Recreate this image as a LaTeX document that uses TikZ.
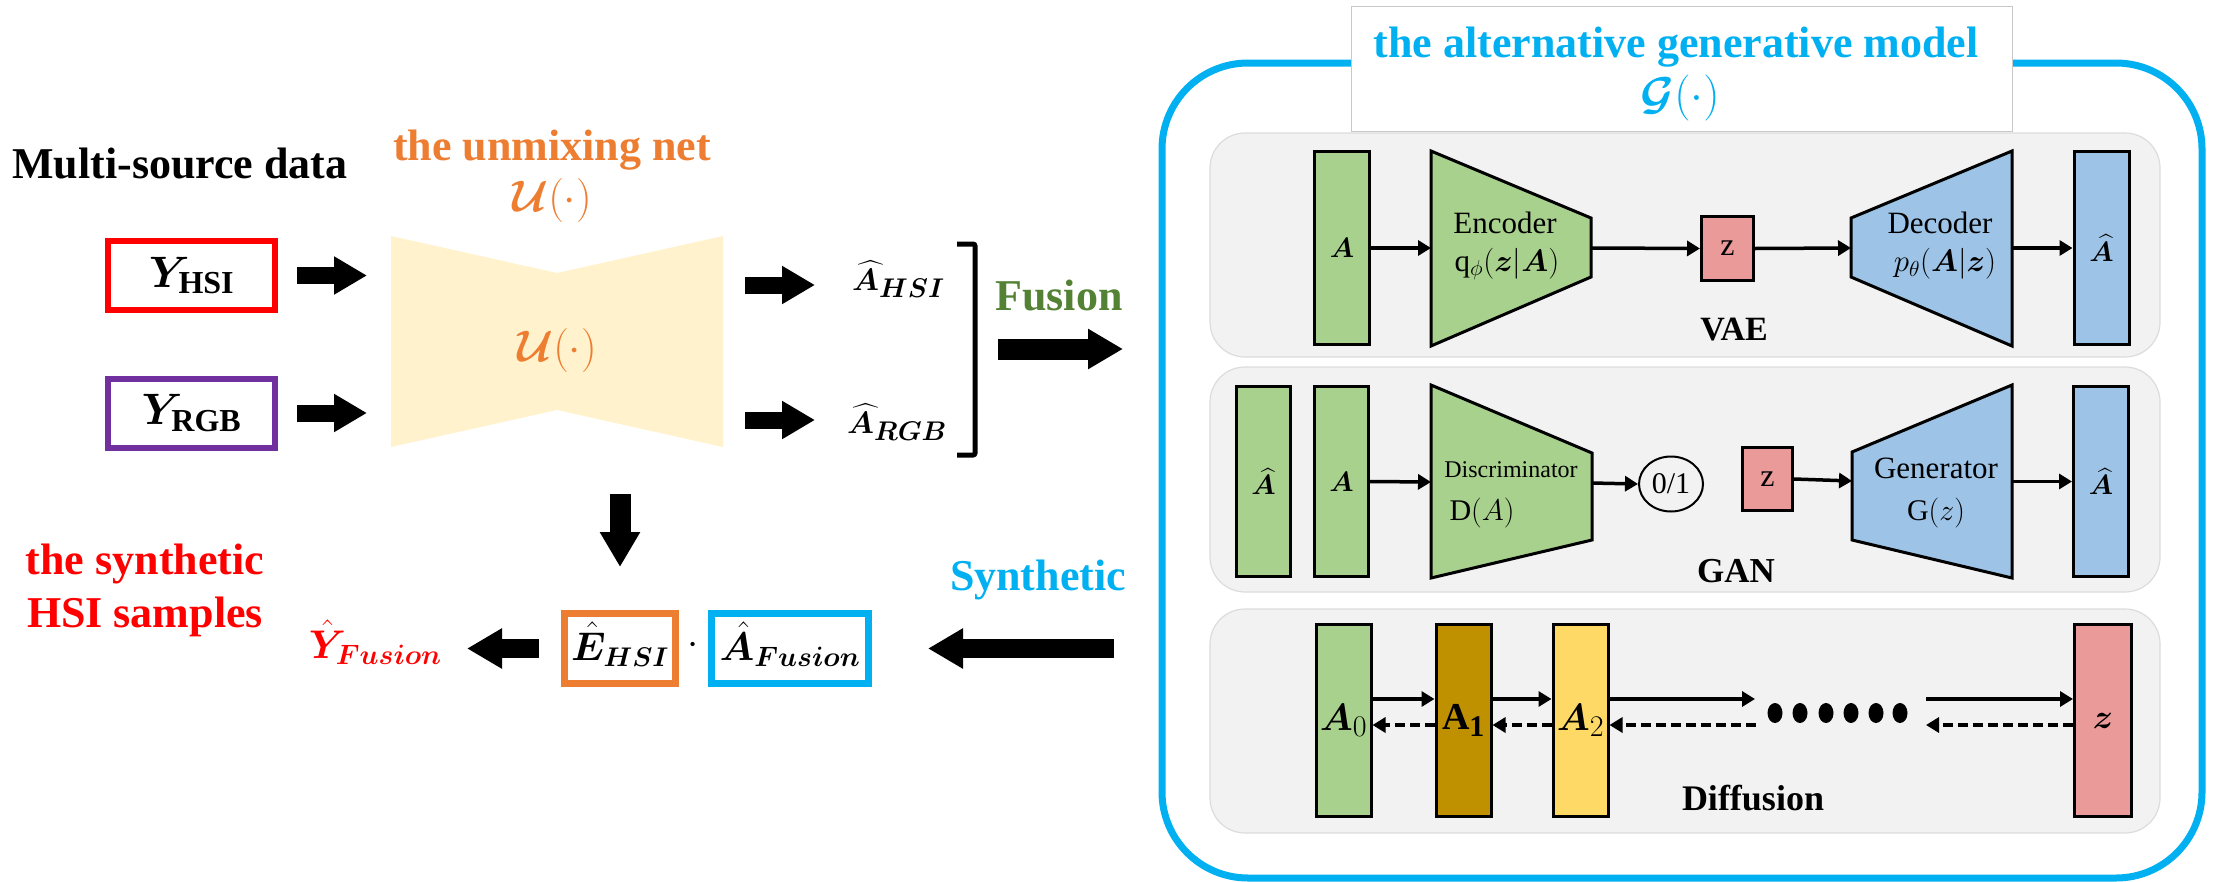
\RequirePackage{fix-cm}
\documentclass[tikz,border=0pt]{standalone}
\usepackage{amsmath}
\usepackage{bm}
\usepackage{fontspec}
\setmainfont{Liberation Serif}
\usetikzlibrary{arrows.meta,shapes.geometric}

\definecolor{redC}{HTML}{FF0000}
\definecolor{purpleC}{HTML}{7030A0}
\definecolor{orangeC}{HTML}{ED7D31}
\definecolor{cyanB}{HTML}{00B0F0}
\definecolor{greenT}{HTML}{548235}
\definecolor{hgFill}{HTML}{FFF2CC}
\definecolor{greenF}{HTML}{A9D18E}
\definecolor{blueF}{HTML}{9DC3E6}
\definecolor{redF}{HTML}{EA9A98}
\definecolor{brownF}{HTML}{BF9000}
\definecolor{yellowF}{HTML}{FFD966}
\definecolor{panelG}{HTML}{F2F2F2}
\definecolor{panelB}{HTML}{DCDCDC}
\definecolor{grayL}{HTML}{C8C8C8}

\newcommand{\fsz}[1]{\fontsize{#1}{#1}\selectfont}
% large subscripts set at an explicit size
\newcommand{\sbx}[2]{\mbox{\fontsize{#1}{#1}\selectfont$#2$}}
\newcommand{\sbt}[2]{\mbox{\fontsize{#1}{#1}\selectfont\bfseries #2}}

\tikzset{
  fat/.style={line width=17pt, -{Triangle[length=33pt,width=36pt]}},
  fatB/.style={line width=21pt, -{Triangle[length=35pt,width=38pt]}},
  ybox/.style={draw, line width=6pt, minimum width=167pt, minimum height=69pt,
    fill=white, text height=33pt, text depth=10pt, inner sep=0pt, font={\fsz{44}}},
  mbox/.style={draw, line width=7pt, minimum width=111pt, minimum height=70pt,
    fill=white, text height=33pt, text depth=10pt, inner sep=0pt, font={\fsz{40}}},
  lbl/.style={inner sep=0pt, anchor=base},
  pnl/.style={fill=panelG, draw=panelB, line width=1.2pt, rounded corners=35pt,
    minimum width=950pt},
  bar/.style={draw=black, line width=3pt, minimum width=55pt, inner sep=0pt},
  trap/.style={draw=black, line width=3pt, line join=miter},
  parrow/.style={line width=3.5pt, -{Triangle[length=13pt,width=15pt]}},
  darrow/.style={parrow, dash pattern=on 10pt off 5pt},
}

\begin{document}
\begin{tikzpicture}[x=1pt,y=-1pt]
\useasboundingbox (0,0) rectangle (2213,881);

% ---------------- left: unmixing stage ----------------
\node[lbl, font={\fsz{44}\bfseries}] (msd) at (180,178) {Multi-source data};
\node[lbl, font={\fsz{44}\bfseries}, text=orangeC] (unt) at (552,160) {the unmixing net};
\node[inner sep=0pt, font={\fsz{44}}, text=orangeC] (ulab) at (552,200) {$\bm{\mathcal{U}}(\cdot)$};

\node[ybox, draw=redC] (yhsi) at (191.5,275.5) {$\bm{Y}_{\sbt{32}{HSI}}$};
\node[ybox, draw=purpleC] (yrgb) at (191.5,413) {$\bm{Y}_{\sbt{32}{RGB}}$};

% hourglass body of the unmixing net
\fill[hgFill] (391,236) -- (557,273) -- (723,236) -- (723,447) -- (557,410) -- (391,447) -- cycle;
\coordinate (hgL) at (391,342);
\coordinate (hgR) at (723,342);
\node[inner sep=0pt, font={\fsz{44}}, text=orangeC] (uin) at (557,350) {$\bm{\mathcal{U}}(\cdot)$};

\draw[fat, shorten <=19pt, shorten >=24pt] (yhsi.east) -- (yhsi.east -| hgL);
\draw[fat, shorten <=19pt, shorten >=24pt] (yrgb.east) -- (yrgb.east -| hgL);

% abundance outputs
\node[inner sep=0pt, anchor=base west, font={\fsz{31}}] (ahsi) at (852,290) {$\widehat{\bm{A}}_{\sbx{27}{\bm{HSI}}}$};
\node[inner sep=0pt, anchor=base west, font={\fsz{31}}] (argb) at (847,433) {$\widehat{\bm{A}}_{\sbx{27}{\bm{RGB}}}$};
\coordinate (o1) at (723,285);
\coordinate (o2) at (723,420);
\draw[fat, shorten <=22pt, shorten >=37pt] (o1) -- (o1 -| ahsi.west);
\draw[fat, shorten <=22pt, shorten >=32pt] (o2) -- (o2 -| argb.west);

% bracket and fusion
\draw[line width=5pt, rounded corners=2pt] (957,244) -- (975,244) -- (975,455) -- (957,455);
\coordinate (brk) at (977,349);
\node[lbl, font={\fsz{44}\bfseries}, text=greenT] (fus) at (1059,310) {Fusion};

% ---------------- bottom: synthesis ----------------
\node[lbl, align=center, font={\fontsize{44}{53}\selectfont\bfseries}, text=redC] (syn) at (145,627) {the synthetic\\HSI samples};
\node[inner sep=0pt, anchor=base east, font={\fsz{40}}, text=redC] (yfu) at (442,658) {$\hat{\bm{Y}}_{\sbx{28}{\bm{Fusion}}}$};
\node[mbox, draw=orangeC] (ehat) at (620,648.5) {$\hat{\bm{E}}_{\sbx{27}{\bm{HSI}}}$};
\node[inner sep=0pt, font={\fsz{40}}] (dotop) at (693,646) {$\cdot$};
\node[mbox, draw=cyanB, minimum width=157pt] (afu) at (790,648.5) {$\hat{\bm{A}}_{\sbx{28}{\bm{Fusion}}}$};
\node[lbl, font={\fsz{44}\bfseries}, text=cyanB] (synt) at (1038,590) {Synthetic};

\coordinate (hgB) at (620,447);
\draw[fatB, shorten <=47pt, shorten >=43pt] (hgB) -- (ehat.north);
\draw[fatB, line width=19pt, shorten <=22pt, shorten >=25pt] (ehat.west) -- (ehat.west -| yfu.east);

% ---------------- right: generative model ----------------
\node[draw=cyanB, line width=7pt, rounded corners=86pt, minimum width=1040pt,
      minimum height=815pt, inner sep=0pt] (gen) at (1682,470.5) {};
\node[draw=grayL, fill=white, line width=1pt, minimum width=661pt, minimum height=125pt,
      inner sep=0pt] (ttlbox) at (1681.5,68.5) {};
\node[lbl, font={\fsz{44}\bfseries}, text=cyanB] (ttl) at (1676,57) {the alternative generative model};
\node[inner sep=0pt, font={\fsz{46}}, text=cyanB] (gsym) at (1680,98) {$\bm{\mathcal{G}}(\cdot)$};

\draw[fatB, shorten <=21pt, shorten >=35.5pt] (brk) -- (brk -| gen.west);
\draw[fatB, line width=19pt, shorten <=44.5pt, shorten >=56pt] (gen.west |- afu.east) -- (afu.east);

% VAE panel
\node[pnl, minimum height=224pt] (vae) at (1685,245) {};
\node[bar, fill=greenF, minimum height=193pt, font={\fsz{28}}] (vA) at (1342,248) {$\bm{A}$};
\draw[trap, fill=greenF] (1431,151) -- (1591,218) -- (1591,277) -- (1431,346) -- cycle;
\coordinate (encL) at (1431,248);
\coordinate (encR) at (1591,248);
\node[bar, fill=redF, minimum width=52pt, minimum height=64pt, font={\fsz{32}}] (vz) at (1727.5,248.5) {z};
\draw[trap, fill=blueF] (1851,218) -- (2012,151) -- (2012,346) -- (1851,277) -- cycle;
\coordinate (decL) at (1851,248);
\coordinate (decR) at (2012,248);
\node[bar, fill=blueF, minimum height=193pt, font={\fsz{28}}] (vAh) at (2101.5,248) {$\widehat{\bm{A}}$};
\draw[parrow] (vA.east) -- (encL);
\draw[parrow] (encR) -- (vz.west);
\draw[parrow] (vz.east) -- (decL);
\draw[parrow] (decR) -- (vAh.west);
\node[lbl, font={\fsz{31}}] (encT) at (1505,233) {Encoder};
\node[inner sep=0pt, font={\fsz{31}}] (encM) at (1507,264) {$\mathrm{q}_{\phi}(\bm{z}|\bm{A})$};
\node[lbl, font={\fsz{31}}] (decT) at (1940,233) {Decoder};
\node[inner sep=0pt, font={\fsz{31}}] (decM) at (1945,264) {$p_{\theta}(\bm{A}|\bm{z})$};
\node[lbl, font={\fsz{34}\bfseries}] (vaeT) at (1734,340) {VAE};

% GAN panel
\node[pnl, minimum height=225pt] (gan) at (1685,479.5) {};
\node[bar, fill=greenF, minimum width=54pt, minimum height=190pt, font={\fsz{28}}] (gAh) at (1263.5,481.5) {$\widehat{\bm{A}}$};
\node[bar, fill=greenF, minimum width=54pt, minimum height=190pt, font={\fsz{28}}] (gA) at (1341.5,481.5) {$\bm{A}$};
\draw[trap, fill=greenF] (1431,385) -- (1592,453) -- (1592,540) -- (1431,578) -- cycle;
\coordinate (disL) at (1431,482);
\coordinate (disR) at (1592,483);
\node[ellipse, draw, line width=2pt, minimum width=64pt, minimum height=55pt, inner sep=0pt,
      font={\fsz{30}}] (c01) at (1671,484) {0/1};
\node[bar, fill=redF, minimum width=50pt, minimum height=63pt, font={\fsz{32}}] (gz) at (1767.5,479) {z};
\draw[trap, fill=blueF] (1852,452) -- (2012,385) -- (2012,578) -- (1852,540) -- cycle;
\coordinate (genL) at (1852,481);
\coordinate (genR) at (2012,481.5);
\node[bar, fill=blueF, minimum width=55pt, minimum height=190pt, font={\fsz{28}}] (gAb) at (2101,481.5) {$\widehat{\bm{A}}$};
\draw[parrow] (gA.east) -- (disL);
\draw[parrow] (disR) -- (c01.west);
\draw[parrow] (gz.east) -- (genL);
\draw[parrow] (genR) -- (gAb.west);
\node[lbl, font={\fsz{24}}] (disT) at (1511,477) {Discriminator};
\node[inner sep=0pt, font={\fsz{30}}] (disM) at (1482,513) {$\mathrm{D}(A)$};
\node[lbl, font={\fsz{31}}] (genT) at (1936,478) {Generator};
\node[inner sep=0pt, font={\fsz{30}}] (genM) at (1936,513) {$\mathrm{G}(z)$};
\node[lbl, font={\fsz{35}\bfseries}] (ganT) at (1736,582) {GAN};

% Diffusion panel
\node[pnl, minimum height=224pt] (dif) at (1685,721) {};
\node[bar, fill=greenF, minimum height=192pt, font={\fsz{38}}] (d0) at (1343.5,720.5) {$\bm{A}_{\sbx{30}{0}}$};
\node[bar, fill=brownF, minimum height=192pt, font={\fsz{38}}] (d1) at (1463.5,720.5) {$\mathbf{A}_{\sbx{30}{\mathbf{1}}}$};
\node[bar, fill=yellowF, minimum height=192pt, font={\fsz{38}}] (d2) at (1580.5,720.5) {$\bm{A}_{\sbx{30}{2}}$};
\node[bar, fill=redF, minimum width=57pt, minimum height=192pt, font={\fsz{34}}] (dz) at (2103,720.5) {$\bm{z}$};
\coordinate (fe1) at (1755,699);
\coordinate (fs2) at (1926,699);
\coordinate (be1) at (1756,725);
\coordinate (bs2) at (1926,725);
\draw[parrow] ([yshift=21.5pt]d0.east) -- ([yshift=21.5pt]d1.west);
\draw[parrow] ([yshift=21.5pt]d1.east) -- ([yshift=21.5pt]d2.west);
\draw[parrow] ([yshift=21.5pt]d2.east) -- (fe1);
\draw[parrow] (fs2) -- (fs2 -| dz.west);
\draw[darrow] ([yshift=-4.5pt]d1.west) -- ([yshift=-4.5pt]d0.east);
\draw[darrow] ([yshift=-4.5pt]d2.west) -- ([yshift=-4.5pt]d1.east);
\draw[darrow] (be1) -- (be1 -| d2.east);
\draw[darrow] (bs2 -| dz.west) -- (bs2);
\foreach \x in {1775,1800,1826,1851,1876,1900}
  \fill (\x,713) ellipse [x radius=7.5pt, y radius=10pt];
\node[lbl, font={\fsz{36}\bfseries}] (difT) at (1753,810) {Diffusion};

\end{tikzpicture}
\end{document}
